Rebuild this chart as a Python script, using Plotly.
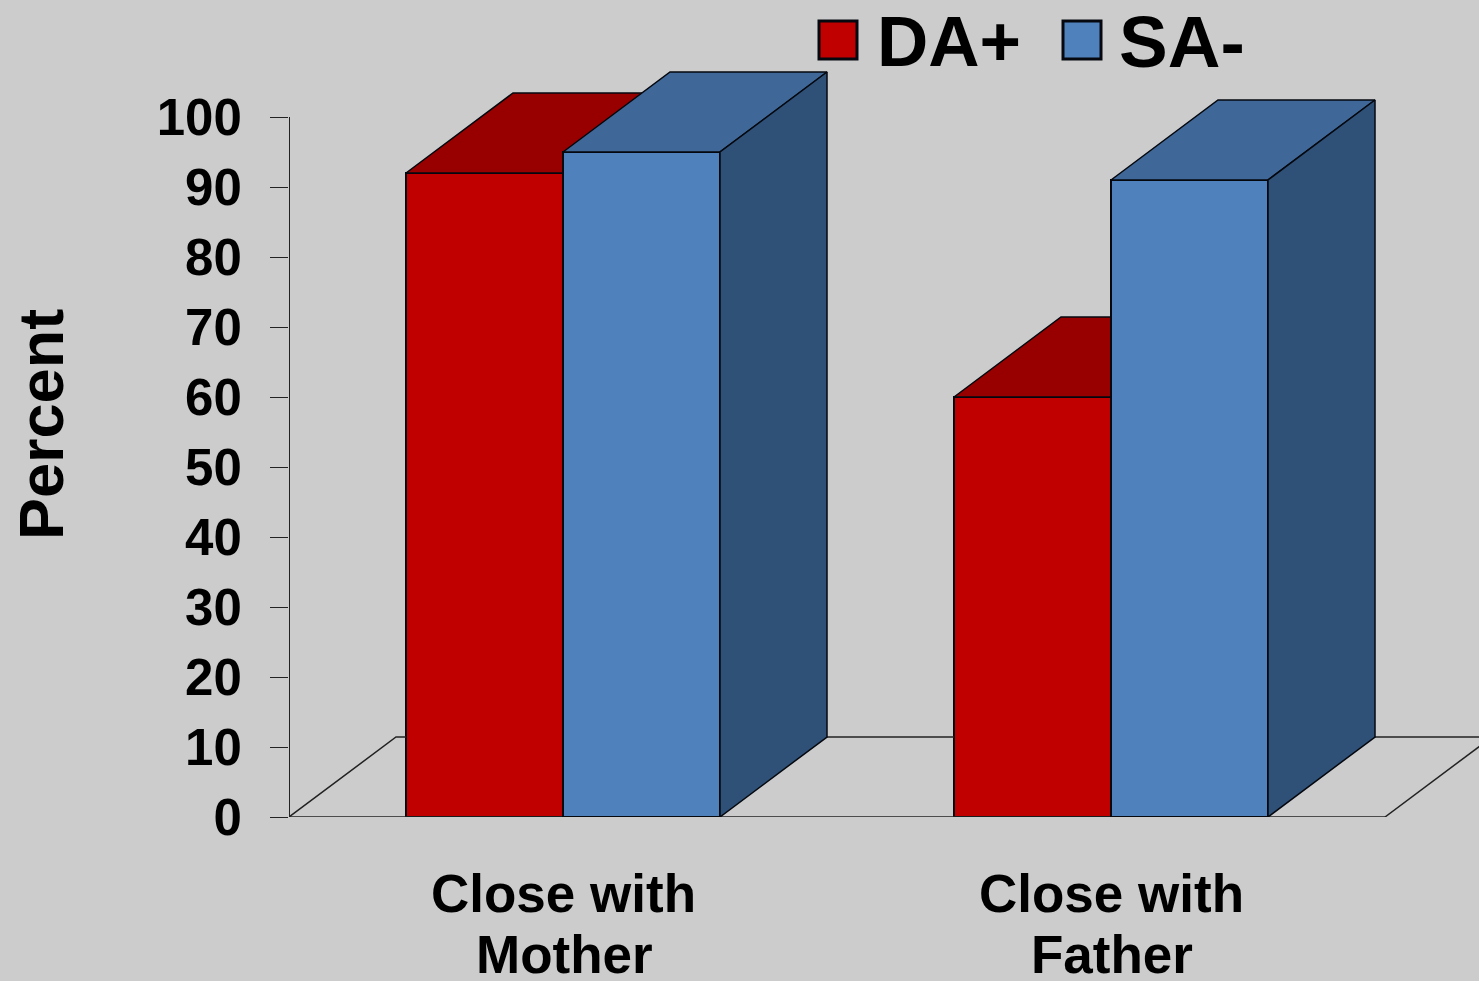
import plotly.graph_objects as go

categories = ["Close with Mother", "Close with Father"]
category_lines = [["Close with", "Mother"], ["Close with", "Father"]]
da_plus = [92, 60]
sa_minus = [95, 91]
y_ticks = [0, 10, 20, 30, 40, 50, 60, 70, 80, 90, 100]

W, H = 1479, 981
LEFT, BASE = 289, 817
PX_X, PX_Y = 548, 7
BAR_W = 157 / PX_X
DX, DY = 107 / PX_X, 80 / PX_Y
X0 = -0.5
X1 = X0 + (W - LEFT) / PX_X
Y1 = BASE / PX_Y

BG = "#CCCCCC"
EDGE = "#05080F"
FONT = "Liberation Sans, Arial, sans-serif"

fig = go.Figure()


def paper_x(px):
    return (px - LEFT) / (W - LEFT)


def paper_y(py):
    return (BASE - py) / BASE


def line(xs, ys, width=1.5, color="#222222", clip=True):
    fig.add_trace(go.Scatter(x=xs, y=ys, mode="lines", showlegend=False, hoverinfo="skip",
                             cliponaxis=clip, line=dict(color=color, width=width)))


def face(xs, ys, color, name, axes):
    fig.add_trace(go.Scatter(x=xs + xs[:1], y=ys + ys[:1], mode="lines", fill="toself", fillcolor=color,
                             line=dict(color=EDGE, width=1.5), showlegend=False, name=name,
                             hoverinfo="skip", xaxis=axes[0], yaxis=axes[1]))


# floor and value axis; the back edge of the floor is only drawn where no bar hides it
line([X0, X0 + DX, -BAR_W, None, BAR_W + DX, 1 - BAR_W, None, 1 + BAR_W + DX, X1],
     [0, DY, DY, None, DY, DY, None, DY, DY])
line([X0, X0 + 2], [0, 0], clip=False)
line([X0 + 2, X0 + 2 + DX], [0, DY])
line([X0, X0], [0, 100], width=2, clip=False)


def series(name, values, color, top, side, offset, axes):
    fig.add_trace(go.Bar(x=[0, 1], y=values, name=name, width=BAR_W, offset=offset,
                         marker=dict(color=color, line=dict(color=EDGE, width=2)),
                         showlegend=False, xaxis=axes[0], yaxis=axes[1]))
    for i, v in enumerate(values):
        a = i + offset
        b = a + BAR_W
        face([a, b, b + DX, a + DX], [v, v, v + DY, v + DY], top, name + " top", axes)
        if side:
            face([b, b + DX, b + DX, b], [0, DY, v + DY, v], side, name + " side", axes)


series("DA+", da_plus, "#C00000", "#980000", None, -BAR_W, ("x", "y"))
series("SA-", sa_minus, "#4F81BD", "#3F6797", "#2F5178", 0, ("x2", "y2"))

annotations = []


def text(s, px, py, size, angle=0, anchor="center"):
    annotations.append(dict(text=s, x=paper_x(px), y=paper_y(py), xref="paper", yref="paper", showarrow=False,
                            xanchor=anchor, yanchor="middle", textangle=angle,
                            font=dict(family=FONT, size=size, color="#000000", weight="bold")))


for i, lines in enumerate(category_lines):
    cx = LEFT + (i - X0) * PX_X
    text(lines[0], cx, 893, 53)
    text(lines[1], cx + 1, 955, 53)
text("Percent", 41, 425, 63, angle=-90)
text("DA+", 875, 41, 71, anchor="left")
text("SA-", 1117, 41, 73, anchor="left")

shapes = [
    dict(type="rect", xref="paper", yref="paper", x0=paper_x(a), x1=paper_x(a + 38),
         y0=paper_y(59), y1=paper_y(21), fillcolor=c, line=dict(color=EDGE, width=3))
    for a, c in [(819, "#C00000"), (1063, "#4F81BD")]
]

hidden = dict(visible=False, fixedrange=True)
fig.update_layout(
    width=W, height=H, autosize=False, paper_bgcolor=BG, plot_bgcolor=BG,
    margin=dict(l=LEFT, r=0, t=0, b=H - BASE), showlegend=False, barmode="overlay",
    xaxis=dict(range=[X0, X1], showgrid=False, zeroline=False, showticklabels=False, ticks="", showline=False),
    yaxis=dict(range=[0, Y1], tickvals=y_ticks, ticks="outside", ticklen=18, tickwidth=1, tickcolor="#222222",
               showgrid=False, zeroline=False, showline=False, ticklabelstandoff=18,
               tickfont=dict(family=FONT, size=51, color="#000000", weight="bold")),
    xaxis2=dict(range=[X0, X1], overlaying="x", **hidden),
    yaxis2=dict(range=[0, Y1], overlaying="y", **hidden),
    annotations=annotations, shapes=shapes,
)

fig.write_html("out.html", config={"displayModeBar": False},
               post_script="document.body.style.margin='0';document.body.style.overflow='hidden';"
                           "document.body.style.background='#CCCCCC';")
